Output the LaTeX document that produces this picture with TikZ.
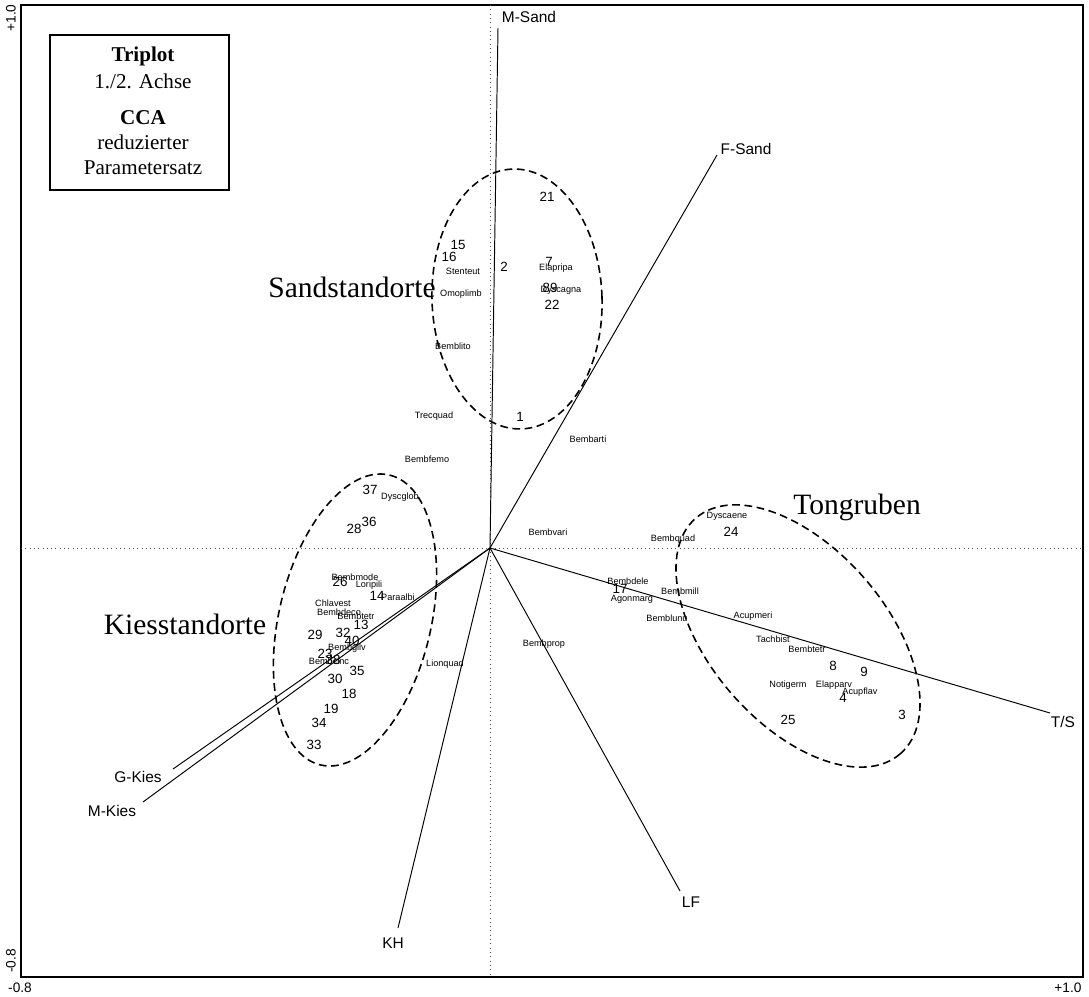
\documentclass[tikz,border=0pt]{standalone}
\usepackage{fontspec}
\setmainfont{Liberation Serif}
\setsansfont{Liberation Sans}
\tikzset{
  sp/.style={font=\sffamily\fontsize{5.2}{6}\selectfont, inner sep=0pt},
  num/.style={font=\sffamily\fontsize{7.6}{8}\selectfont, inner sep=0pt},
  vlab/.style={font=\sffamily\fontsize{8.8}{10}\selectfont, inner sep=0pt},
  grp/.style={font=\fontsize{16.8}{19}\selectfont, inner sep=0pt},
  boxt/.style={font=\fontsize{12}{14}\selectfont, inner sep=0pt},
  boxb/.style={font=\bfseries\fontsize{12}{14}\selectfont, inner sep=0pt},
  tick/.style={font=\sffamily\fontsize{7.8}{9}\selectfont, inner sep=0pt},
  vec/.style={line width=0.55pt},
  clus/.style={dash pattern=on 4.4pt off 2.6pt, line width=0.9pt},
  ax/.style={dotted, line width=0.45pt, black!70}
}
\begin{document}
\begin{tikzpicture}[x=0.02cm,y=-0.02cm]
\useasboundingbox (0,0) rectangle (1089,997);
% frame
\draw[line width=0.8pt] (21,5) rectangle (1083,977);
\draw[line width=1.3pt] (21,977) -- (1083,977);
% dotted axes
\draw[ax] (490,5) -- (490,977);
\draw[ax] (21,548) -- (1083,548);
% axis ticks
\node[tick, rotate=90] (t1) at (11,18) {+1.0};
\node[tick, rotate=90] (t2) at (11,961) {-0.8};
\node[tick] (t3) at (20,988) {-0.8};
\node[tick] (t4) at (1068,988) {+1.0};
% legend box
\node[draw, line width=1.1pt, minimum width=3.58cm, minimum height=3.1cm, inner sep=0pt] (box) at (139.5,112.5) {};
\node[boxb] (b1) at (143,56) {Triplot};
\node[boxt] (b2) at (143,81) {1./2. Achse};
\node[boxb] (b3) at (143,118) {CCA};
\node[boxt] (b4) at (143,142) {reduzierter};
\node[boxt] (b5) at (143,168) {Parametersatz};
% vectors
\coordinate (O) at (490,548);
\coordinate (eMS) at (498,28);
\coordinate (eFS) at (717,155);
\coordinate (eTS) at (1050,713);
\coordinate (eLF) at (680,891);
\coordinate (eKH) at (398,928);
\coordinate (eGK) at (173,769);
\coordinate (eMK) at (143,802);
\draw[vec] (O) -- (eMS);
\draw[vec] (O) -- (eFS);
\draw[vec] (O) -- (eTS);
\draw[vec] (O) -- (eLF);
\draw[vec] (O) -- (eKH);
\draw[vec] (O) -- (eGK);
\draw[vec] (O) -- (eMK);
\node[vlab] (lMS) at (529,17) {M-Sand};
\node[vlab] (lFS) at (746,149) {F-Sand};
\node[vlab] (lTS) at (1063,722) {T/S};
\node[vlab] (lLF) at (691,902) {LF};
\node[vlab] (lKH) at (393,943) {KH};
\node[vlab] (lGK) at (138,777) {G-Kies};
\node[vlab] (lMK) at (112,811) {M-Kies};
% cluster ellipses
\draw[clus, rotate around={2:(517,299)}] (517,299) ellipse[x radius=85, y radius=130];
\draw[clus, rotate around={76.6:(355,620)}] (355,620) ellipse[x radius=149, y radius=76];
\draw[clus, rotate around={-49:(798,636)}] (798,636) ellipse[x radius=156, y radius=88];
% group labels
\node[grp] (gS) at (352,287) {Sandstandorte};
\node[grp] (gK) at (185,624) {Kiesstandorte};
\node[grp] (gT) at (857,507) {Tongruben};
% Sand cluster
\node[num] (n21) at (547,197) {21};
\node[num] (n15) at (458,245) {15};
\node[num] (n16) at (449,257) {16};
\node[sp] (sStenteut) at (463,271) {Stenteut};
\node[num] (n2) at (504,267) {2};
\node[num] (n7) at (549,262) {7};
\node[sp] (sElapripa) at (556,268) {Elapripa};
\node[sp] (sOmoplimb) at (461,294) {Omoplimb};
\node[num] (n89) at (550,288) {89};
\node[sp] (sDyscagna) at (561,290) {Dyscagna};
\node[num] (n22) at (552,305) {22};
\node[sp] (sBemblito) at (453,346) {Bemblito};
\node[sp] (sTrecquad) at (434,416) {Trecquad};
\node[num] (n1) at (520,417) {1};
% middle
\node[sp] (sBembarti) at (588,439) {Bembarti};
\node[sp] (sBembvari) at (548,532) {Bembvari};
\node[sp] (sBembquad) at (673,539) {Bembquad};
\node[sp] (sBembdele) at (628,581) {Bembdele};
\node[num] (n17) at (620,589) {17};
\node[sp] (sAgonmarg) at (632,599) {Agonmarg};
\node[sp] (sBembmill) at (680,591) {Bembmill};
\node[sp] (sBemblunu) at (667,618) {Bemblunu};
\node[sp] (sBembprop) at (544,644) {Bembprop};
\node[sp] (sBembfemo) at (427,459) {Bembfemo};
\node[sp] (sLionquad) at (445,664) {Lionquad};
% Kies cluster
\node[num] (n37) at (370,490) {37};
\node[sp] (sDyscglob) at (400,497) {Dyscglob};
\node[num] (n28) at (354,529) {28};
\node[num] (n36) at (369,522) {36};
\node[num] (n26) at (340,582) {26};
\node[sp] (sBembmode) at (355,577) {Bembmode};
\node[sp] (sLoripili) at (369,585) {Loripili};
\node[num] (n14) at (377,596) {14};
\node[sp] (sParaalbi) at (398,597) {Paraalbi};
\node[sp] (sChlavest) at (333,603) {Chlavest};
\node[sp] (sBembdeco) at (339,612) {Bembdeco};
\node[sp] (sBembtetrK) at (356,616) {Bembtetr};
\node[num] (n13) at (361,625) {13};
\node[num] (n29) at (315,635) {29};
\node[num] (n32) at (343,633) {32};
\node[num] (n40) at (352,641) {40};
\node[sp] (sBembgilv) at (347,648) {Bembgilv};
\node[num] (n23) at (325,654) {23};
\node[num] (n38) at (333,660) {38};
\node[sp] (sBembcinc) at (329,661) {Bembcinc};
\node[num] (n35) at (357,671) {35};
\node[num] (n30) at (335,679) {30};
\node[num] (n18) at (349,694) {18};
\node[num] (n19) at (331,709) {19};
\node[num] (n34) at (319,723) {34};
\node[num] (n33) at (314,745) {33};
% Tongruben cluster
\node[sp] (sDyscaene) at (727,516) {Dyscaene};
\node[num] (n24) at (731,532) {24};
\node[sp] (sAcupmeri) at (753,616) {Acupmeri};
\node[sp] (sTachbist) at (773,639) {Tachbist};
\node[sp] (sBembtetrT) at (807,649) {Bembtetr};
\node[num] (n8) at (833,666) {8};
\node[num] (n9) at (864,672) {9};
\node[sp] (sNotigerm) at (788,685) {Notigerm};
\node[sp] (sElapparv) at (834,685) {Elapparv};
\node[sp] (sAcupflav) at (860,692) {Acupflav};
\node[num] (n4) at (843,698) {4};
\node[num] (n25) at (788,720) {25};
\node[num] (n3) at (902,715) {3};
\end{tikzpicture}
\end{document}
